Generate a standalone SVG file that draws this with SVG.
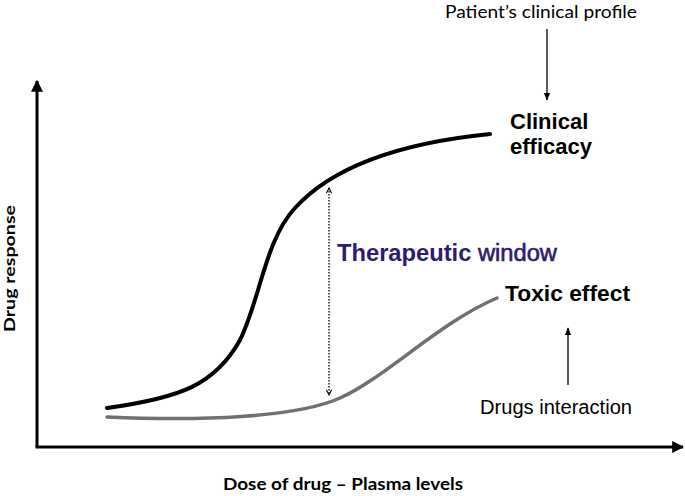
<svg xmlns="http://www.w3.org/2000/svg" width="685" height="496" viewBox="0 0 685 496">
<defs>
<style>
.lbl{font-family:"Liberation Sans",Arial,sans-serif;fill:#000}
.b{font-weight:bold}
.cal{font-family:Lato,"Open Sans",sans-serif;fill:#000}
.ax{stroke:#000;stroke-width:3;fill:none}
.thin{stroke:#000;stroke-width:1.3;fill:none}
.dot{stroke:#000;stroke-width:1.3;stroke-dasharray:1.5 1.5;fill:none}
</style>
<marker id="axh" viewBox="0 0 10 10" refX="9" refY="5" markerWidth="4" markerHeight="4" orient="auto" markerUnits="strokeWidth">
<path d="M0,0 L10,5 L0,10 Z" fill="#000"/>
</marker>
<marker id="sh" viewBox="0 0 10 10" refX="9" refY="5" markerWidth="6" markerHeight="6" orient="auto" markerUnits="strokeWidth">
<path d="M0,1 L10,5 L0,9 Z" fill="#000"/>
</marker>
<marker id="ch" viewBox="0 0 10 10" refX="9" refY="5" markerWidth="5" markerHeight="5" orient="auto-start-reverse" markerUnits="strokeWidth">
<path d="M1,1 L9,5 L1,9" fill="none" stroke="#000" stroke-width="1.6"/>
</marker>
</defs>
<rect width="685" height="496" fill="#fff"/>

<g id="axes">
<line class="ax" x1="37" y1="447" x2="37" y2="81" marker-end="url(#axh)"/>
<line class="ax" x1="35.5" y1="447" x2="683" y2="447" marker-end="url(#axh)"/>
</g>

<g id="connectors">
<line class="thin" x1="547" y1="29" x2="547" y2="100" marker-end="url(#sh)"/>
<line class="thin" x1="568" y1="385" x2="568" y2="328" marker-end="url(#sh)"/>
<line class="dot" x1="329" y1="188" x2="329" y2="395" marker-start="url(#ch)" marker-end="url(#ch)"/>
</g>

<g id="efficacy-curve">
<path d="M107,408 C180,398 215,385 240,340 C260,300 265,240 295,208 C325,175 380,145 490,134" fill="none" stroke="#000" stroke-width="4" stroke-linecap="round"/>
</g>
<g id="toxic-curve">
<path d="M107,417 C200,421 295,418 340,398 C385,378 440,322 497,298" fill="none" stroke="#707070" stroke-width="3.5" stroke-linecap="round"/>
</g>

<g id="patient-profile">
<text class="cal" x="445" y="18" font-size="17" textLength="192" lengthAdjust="spacingAndGlyphs">Patient’s clinical profile</text>
</g>
<g id="clinical-efficacy">
<text class="lbl b" x="510" y="129" font-size="22">Clinical</text>
<text class="lbl b" x="510" y="154" font-size="22">efficacy</text>
</g>
<g id="therapeutic-window">
<text class="lbl" x="337" y="261" font-size="23" style="fill:#2e1a6e" textLength="220" lengthAdjust="spacingAndGlyphs"><tspan font-weight="bold">Therapeutic</tspan> <tspan stroke="#2e1a6e" stroke-width="0.6">window</tspan></text>
</g>
<g id="toxic-effect">
<text class="lbl b" x="505" y="301" font-size="22" textLength="125" lengthAdjust="spacingAndGlyphs">Toxic effect</text>
</g>
<g id="drugs-interaction">
<text class="lbl" x="480" y="414" font-size="20" textLength="152" lengthAdjust="spacingAndGlyphs">Drugs interaction</text>
</g>
<g id="x-label">
<text class="cal b" x="223" y="490" font-size="17" textLength="240" lengthAdjust="spacingAndGlyphs">Dose of drug – Plasma levels</text>
</g>
<g id="y-label">
<text class="cal b" transform="translate(15,332) rotate(-90)" x="0" y="0" font-size="16" textLength="127" lengthAdjust="spacingAndGlyphs">Drug  response</text>
</g>
</svg>
